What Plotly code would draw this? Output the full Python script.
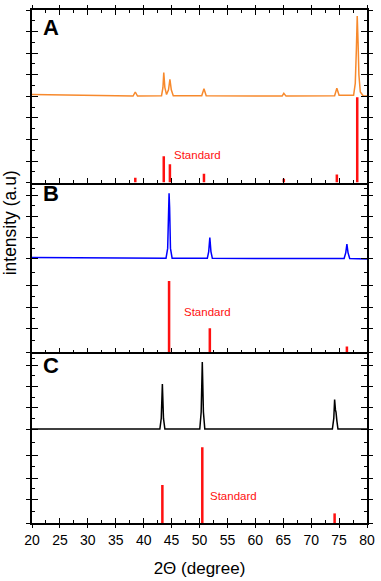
import plotly.graph_objects as go

# ---------------- data ----------------
# Panel A (orange pattern, offset baseline ~4)
a_x = [20, 25, 30, 35, 38.1, 38.5, 38.9, 43.2, 43.45, 43.6, 43.8, 44.1, 44.45, 44.7, 44.95, 45.3,
       50.4, 50.8, 51.2, 64.8, 65.1, 65.5, 74.2, 74.6, 75.0, 77.6, 77.9, 78.1, 78.25, 78.4, 78.55, 78.8, 79.3, 80]
a_y = [4.08, 4.07, 4.04, 4.02, 4.01, 4.2, 4.01, 4.03, 4.4, 5.1, 4.4, 4.08, 4.3, 4.79, 4.3, 4.03,
       4.03, 4.35, 4.03, 4.01, 4.14, 4.01, 4.03, 4.37, 4.05, 4.05, 4.6, 6.2, 7.72, 6.5, 5.0, 4.2, 4.03, 4.02]
a_std_x = [38.5, 43.6, 44.7, 50.8, 65.1, 74.6, 78.25]
a_std_y = [0.23, 1.22, 0.85, 0.41, 0.18, 0.38, 3.96]

# Panel B (blue pattern)
b_x = [20, 30, 40, 44.0, 44.3, 44.45, 44.55, 44.65, 44.8, 45.1, 51.4, 51.65, 51.85, 52.05, 52.3,
       60, 70, 75.9, 76.2, 76.4, 76.6, 76.9, 80]
b_y = [4.47, 4.45, 4.43, 4.43, 4.9, 6.8, 7.5, 6.8, 4.9, 4.43, 4.43, 4.75, 5.41, 4.75, 4.43,
       4.42, 4.42, 4.42, 4.7, 5.10, 4.7, 4.42, 4.40]
b_std_x = [44.55, 51.85, 76.4]
b_std_y = [3.36, 1.14, 0.28]

# Panel C (black pattern)
c_x = [20, 30, 42.9, 43.15, 43.35, 43.55, 43.8, 50.05, 50.3, 50.5, 50.7, 50.95,
       73.8, 74.05, 74.2, 74.35, 74.45, 74.6, 74.8, 80]
c_y = [4.4, 4.4, 4.4, 4.9, 6.51, 4.9, 4.4, 4.4, 5.2, 7.55, 5.2, 4.4,
       4.4, 4.9, 5.79, 5.3, 5.2, 4.8, 4.4, 4.4]
c_std_x = [43.35, 50.5, 74.2]
c_std_y = [1.78, 3.55, 0.45]

panel_labels = ["A", "B", "C"]
std_label = "Standard"
x_ticks = [20, 25, 30, 35, 40, 45, 50, 55, 60, 65, 70, 75, 80]
a_yticks = [0, 1, 2, 3, 4, 5, 6, 7, 8]
bc_yticks = [0, 1.1, 2.1, 3.15, 4.4, 5.4, 6.4, 7.4, 8]

# ---------------- figure ----------------
FONT = "Liberation Sans, Arial, sans-serif"
ORANGE = "#f7892c"
RED = "#ff1010"

fig = go.Figure()

# Panel A: curve on (x3,y3), sticks on overlay (x5,y6)
fig.add_trace(go.Scatter(x=a_x, y=a_y, mode="lines", line=dict(color=ORANGE, width=1.5),
                         xaxis="x3", yaxis="y3", showlegend=False))
fig.add_trace(go.Bar(x=a_std_x, y=a_std_y, width=0.45, marker=dict(color=RED, line=dict(width=0)),
                     xaxis="x5", yaxis="y6", showlegend=False))
# Panel B
fig.add_trace(go.Scatter(x=b_x, y=b_y, mode="lines", line=dict(color="#0000ff", width=1.5),
                         xaxis="x2", yaxis="y2", showlegend=False))
fig.add_trace(go.Bar(x=b_std_x, y=b_std_y, width=0.45, marker=dict(color=RED, line=dict(width=0)),
                     xaxis="x2", yaxis="y5", showlegend=False))
# Panel C
fig.add_trace(go.Scatter(x=c_x, y=c_y, mode="lines", line=dict(color="black", width=1.5),
                         xaxis="x", yaxis="y", showlegend=False))
fig.add_trace(go.Bar(x=c_std_x, y=c_std_y, width=0.45, marker=dict(color=RED, line=dict(width=0)),
                     xaxis="x4", yaxis="y4", showlegend=False))

dom_c = [0, 0.3327]
dom_b = [0.3327, 0.6635]
dom_a = [0.6635, 1]

def mid(v):
    return [(v[i] + v[i + 1]) / 2 for i in range(len(v) - 1)]

xbase = dict(range=[20, 80], tickvals=x_ticks, showline=True, linecolor="black", linewidth=1.5,
             showgrid=False, zeroline=False, ticks="inside", ticklen=5, tickwidth=1.3, tickcolor="black",
             minor=dict(ticks="inside", ticklen=3, tickwidth=1, tickcolor="black", dtick=2.5, tick0=20, showgrid=False),
             tickfont=dict(family=FONT, size=14, color="black"))

def ybase(ticks):
    return dict(range=[0, 8], tickvals=ticks, showline=True, linecolor="black", linewidth=1.5,
                showgrid=False, zeroline=False, ticks="inside", ticklen=6, tickwidth=1.3, tickcolor="black",
                mirror="ticks", showticklabels=False,
                minor=dict(ticks="inside", ticklen=3, tickwidth=1, tickcolor="black", tickvals=mid(ticks), showgrid=False))

def yover(ticks, over):
    return dict(range=[0, 8], tickvals=ticks, overlaying=over, showline=False, showgrid=False, zeroline=False,
                ticks="outside", ticklen=5, tickwidth=1.3, tickcolor="black", mirror="ticks",
                showticklabels=False)

xover = dict(range=[20, 80], tickvals=x_ticks, showline=False, showgrid=False, zeroline=False,
             ticks="outside", ticklen=4, tickwidth=1.3, tickcolor="black", showticklabels=False)

fig.update_layout(
    width=381, height=581,
    margin=dict(l=32, r=10, t=6, b=55),
    paper_bgcolor="white", plot_bgcolor="white",
    showlegend=False,
    xaxis=dict(**xbase, domain=[0, 1], anchor="y", mirror=False, showticklabels=True, ticklabelstandoff=3,
               title=dict(text="2\u0398 (degree)", font=dict(family=FONT, size=17, color="black"), standoff=16)),
    xaxis2=dict(**xbase, domain=[0, 1], anchor="y2", mirror=False, showticklabels=False),
    xaxis3=dict(**xbase, domain=[0, 1], anchor="y3", mirror="ticks", showticklabels=False),
    xaxis4=dict(**xover, overlaying="x", anchor="y", side="bottom"),
    xaxis5=dict(**xover, overlaying="x3", anchor="y3", side="top"),
    yaxis=dict(**ybase(bc_yticks), domain=dom_c, anchor="x"),
    yaxis2=dict(**ybase(bc_yticks), domain=dom_b, anchor="x2"),
    yaxis3=dict(**ybase(a_yticks), domain=dom_a, anchor="x3"),
    yaxis4=dict(**yover(bc_yticks, "y"), anchor="x4"),
    yaxis5=dict(**yover(bc_yticks, "y2"), anchor="x2"),
    yaxis6=dict(**yover(a_yticks, "y3"), anchor="x5"),
)

annos = []
for lbl, xr, yr, yv in [("A", "x3", "y3", 7.2), ("B", "x2", "y2", 7.5), ("C", "x", "y", 7.4)]:
    annos.append(dict(text="<b>%s</b>" % lbl, x=21.6, y=yv, xref=xr, yref=yr, xanchor="left", yanchor="middle",
                      showarrow=False, font=dict(family=FONT, size=22, color="black")))
for xr, yr, xv, yv in [("x3", "y3", 49.7, 1.3), ("x2", "y2", 51.5, 1.9), ("x", "y", 56.1, 1.28)]:
    annos.append(dict(text=std_label, x=xv, y=yv, xref=xr, yref=yr, xanchor="center", yanchor="middle",
                      showarrow=False, font=dict(family=FONT, size=11.5, color=RED)))
annos.append(dict(text="intensity (a.u)", x=(10 - 32) / 339, y=(526 - 222) / 520, xref="paper", yref="paper",
                  xanchor="center", yanchor="middle", textangle=-90, showarrow=False,
                  font=dict(family=FONT, size=17.5, color="black")))
fig.update_layout(annotations=annos)

fig.write_html("out.html", config={"displayModeBar": False},
               post_script="document.body.style.margin='0px';")
